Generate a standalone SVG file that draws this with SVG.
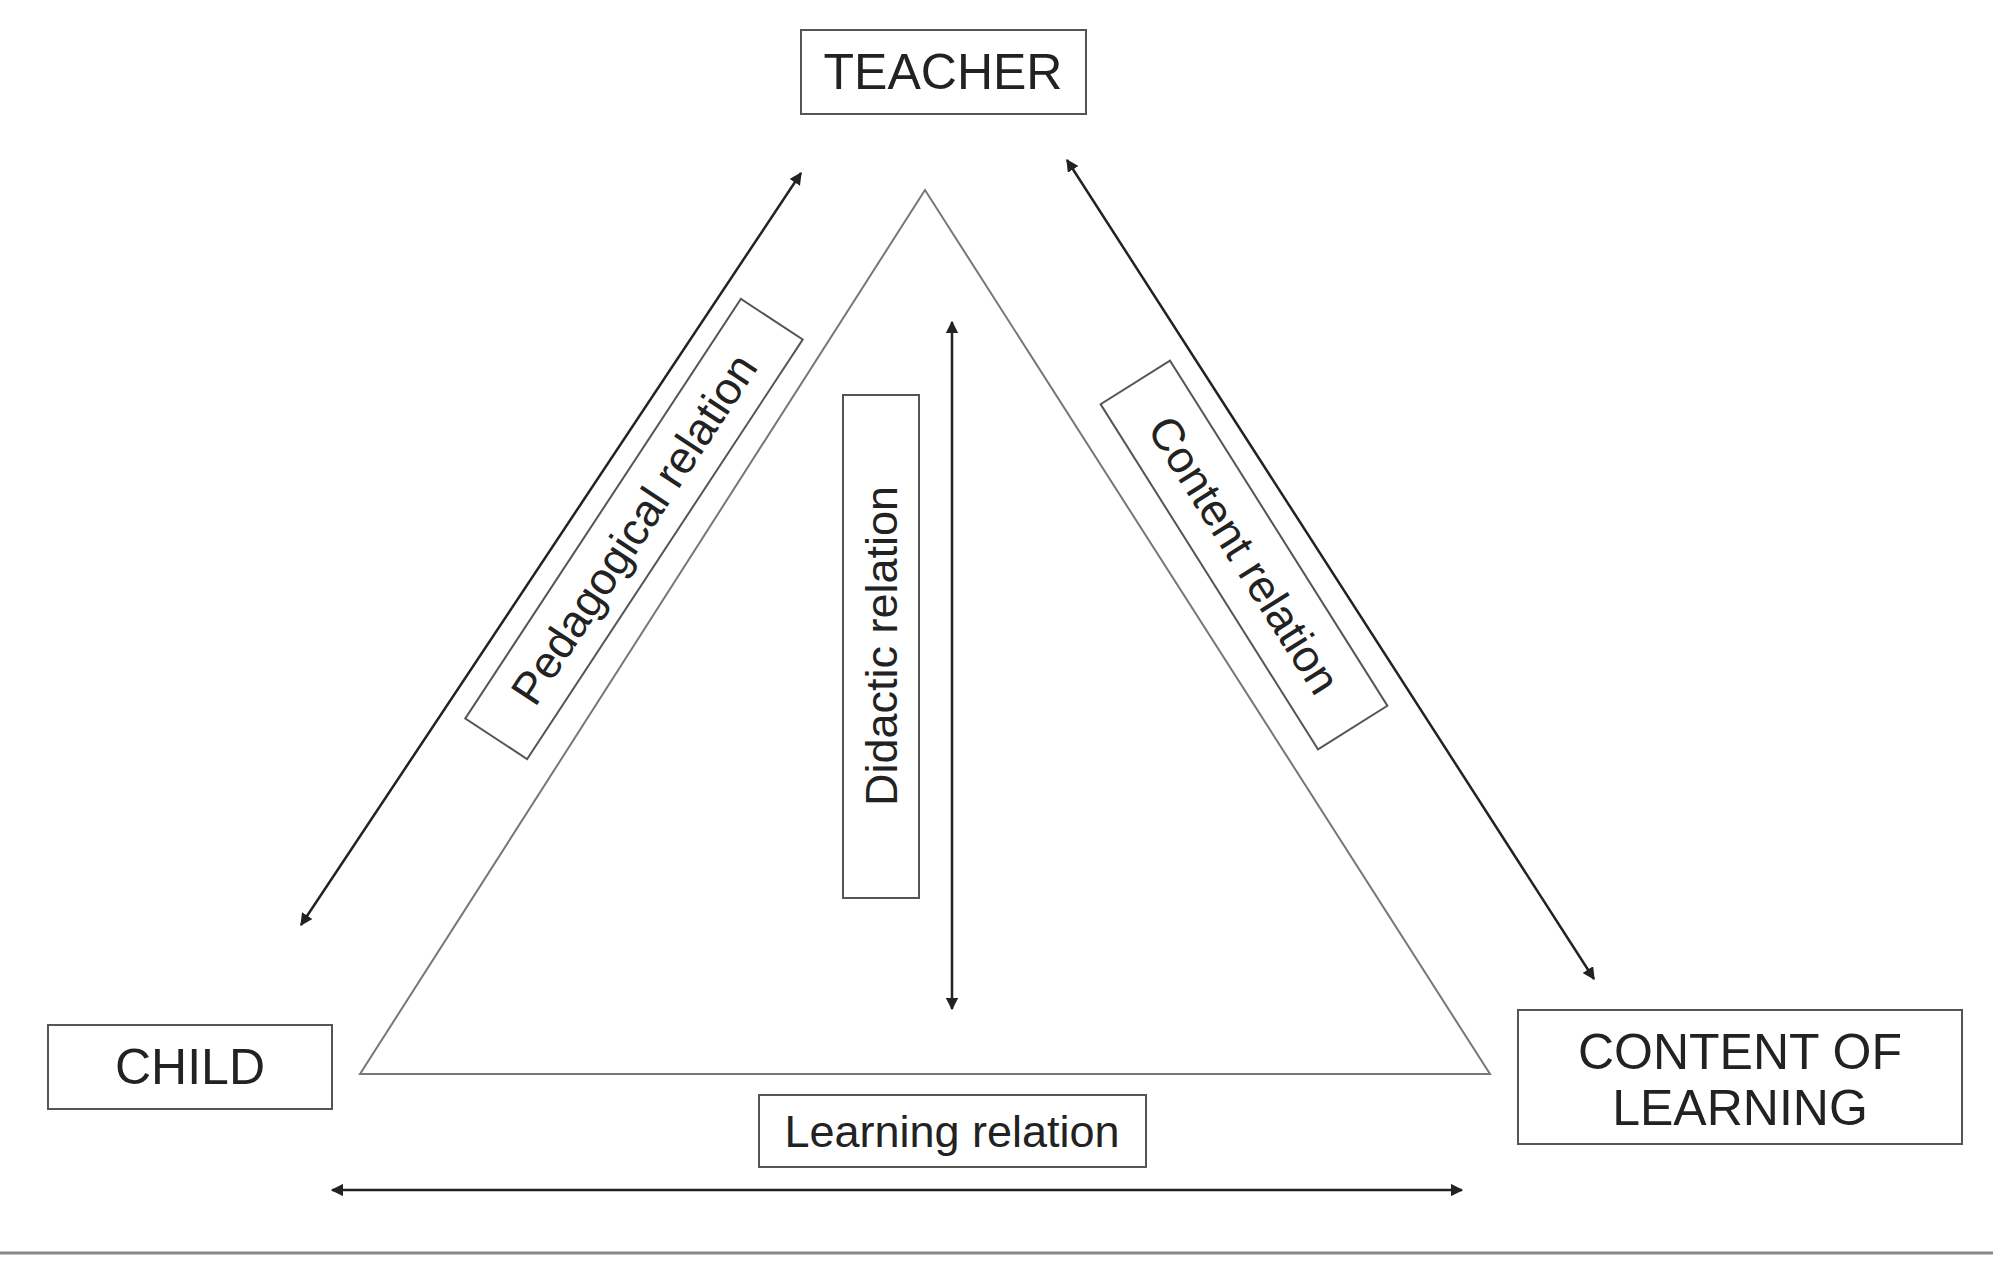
<svg xmlns="http://www.w3.org/2000/svg" width="1993" height="1266" viewBox="0 0 1993 1266">
<style>
.box{fill:#fff;stroke:#555;stroke-width:2}
.t{font-family:"Liberation Sans",Arial,sans-serif;fill:#222;text-anchor:middle;dominant-baseline:central}
.big{font-size:50px}
.sm{font-size:45px}
.c{stroke:#222;stroke-width:2.5;fill:none;marker-start:url(#a);marker-end:url(#a)}
</style>
<defs><marker id="a" viewBox="0 0 10 10" refX="9" refY="5" markerWidth="5" markerHeight="5" orient="auto-start-reverse"><path d="M0,0L10,5L0,10z" fill="#222"/></marker></defs>
<rect width="1993" height="1266" fill="#fff"/>
<polygon points="925,190 360,1074 1490,1074" fill="none" stroke="#777" stroke-width="2"/>
<g id="connectors">
<line class="c" x1="301" y1="925" x2="801" y2="173"/>
<line class="c" x1="1067" y1="160" x2="1594" y2="979"/>
<line class="c" x1="952" y1="322" x2="952" y2="1009"/>
<line class="c" x1="332" y1="1190" x2="1462" y2="1190"/>
</g>
<g id="teacher"><rect class="box" x="801" y="30" width="285" height="84"/><text class="t big" x="943" y="72">TEACHER</text></g>
<g id="child"><rect class="box" x="48" y="1025" width="284" height="84"/><text class="t big" x="190" y="1067">CHILD</text></g>
<g id="content"><rect class="box" x="1518" y="1010" width="444" height="134"/><text class="t big" x="1740" y="1052">CONTENT OF</text><text class="t big" x="1740" y="1108">LEARNING</text></g>
<g id="learning"><rect class="box" x="759" y="1095" width="387" height="72"/><text class="t sm" x="952" y="1131">Learning relation</text></g>
<g id="didactic"><rect class="box" x="843" y="395" width="76" height="503"/><text class="t sm" transform="translate(881,646) rotate(-90)">Didactic relation</text></g>
<g id="pedagogical" transform="translate(634,529) rotate(-56.7)"><rect class="box" x="-251" y="-37" width="502" height="74"/><text class="t sm" x="0" y="0">Pedagogical relation</text></g>
<g id="contentrel" transform="translate(1244,555) rotate(57.8)"><rect class="box" x="-204" y="-41" width="408" height="82"/><text class="t sm" x="0" y="0">Content relation</text></g>
<line x1="0" y1="1253" x2="1993" y2="1253" stroke="#888" stroke-width="3"/>
</svg>
